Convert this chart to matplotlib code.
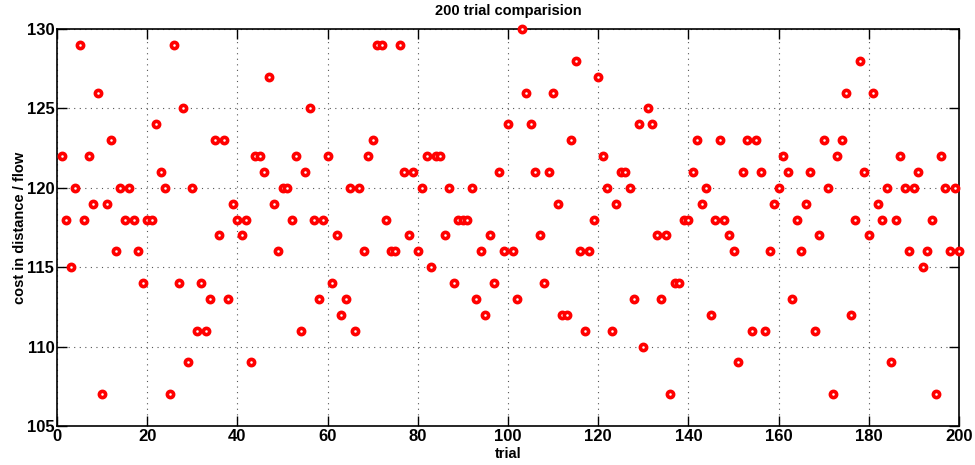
import numpy as np
import matplotlib
matplotlib.use('Agg')
import matplotlib.pyplot as plt

# cost per trial (trials 1..200)
cost = [
    122, 118, 115, 120, 129, 118, 122, 119, 126, 107,
    119, 123, 116, 120, 118, 120, 118, 116, 114, 118,
    118, 124, 121, 120, 107, 129, 114, 125, 109, 120,
    111, 114, 111, 113, 123, 117, 123, 113, 119, 118,
    117, 118, 109, 122, 122, 121, 127, 119, 116, 120,
    120, 118, 122, 111, 121, 125, 118, 113, 118, 122,
    114, 117, 112, 113, 120, 111, 120, 116, 122, 123,
    129, 129, 118, 116, 116, 129, 121, 117, 121, 116,
    120, 122, 115, 122, 122, 117, 120, 114, 118, 118,
    118, 120, 113, 116, 112, 117, 114, 121, 116, 124,
    116, 113, 130, 126, 124, 121, 117, 114, 121, 126,
    119, 112, 112, 123, 128, 116, 111, 116, 118, 127,
    122, 120, 111, 119, 121, 121, 120, 113, 124, 110,
    125, 124, 117, 113, 117, 107, 114, 114, 118, 118,
    121, 123, 119, 120, 112, 118, 123, 118, 117, 116,
    109, 121, 123, 111, 123, 121, 111, 116, 119, 120,
    122, 121, 113, 118, 116, 119, 121, 111, 117, 123,
    120, 107, 122, 123, 126, 112, 118, 128, 121, 117,
    126, 119, 118, 120, 109, 118, 122, 120, 116, 120,
    121, 115, 116, 118, 107, 122, 120, 116, 120, 116,
]
trial = np.arange(1, len(cost) + 1)

xticks = list(range(0, 201, 20))
yticks = list(range(105, 131, 5))

plt.rcParams['font.family'] = ['Liberation Sans', 'DejaVu Sans']
plt.rcParams['font.weight'] = 'bold'

fig = plt.figure(figsize=(9.75, 4.65), dpi=100)
ax = fig.add_axes([0.0585, 0.0839, 0.9251, 0.8537])

ax.plot(trial, cost, 'o', color='red', mfc='white', mec='red',
        markersize=4.5, markeredgewidth=2.6, linestyle='none', clip_on=False, zorder=3)

ax.set_xlim(0, 200)
ax.set_ylim(105, 130)
ax.set_xticks(xticks)
ax.set_yticks(yticks)
ax.grid(True, linestyle=(0, (1, 4)), color='#555555', linewidth=0.8)

ax.tick_params(direction='in', length=7, width=1, top=True, right=True,
               labelsize=12, pad=2)
for lab in ax.get_xticklabels() + ax.get_yticklabels():
    lab.set_fontweight('bold')
for s in ax.spines.values():
    s.set_linewidth(1.2)

ax.set_title('200 trial comparision', fontsize=10.5, fontweight='bold', pad=10)
ax.set_xlabel('trial', fontsize=10.5, fontweight='bold', labelpad=2)
ax.set_ylabel('cost in distance / flow', fontsize=10.5, fontweight='bold', labelpad=0)

fig.savefig('out.png', dpi=100)
